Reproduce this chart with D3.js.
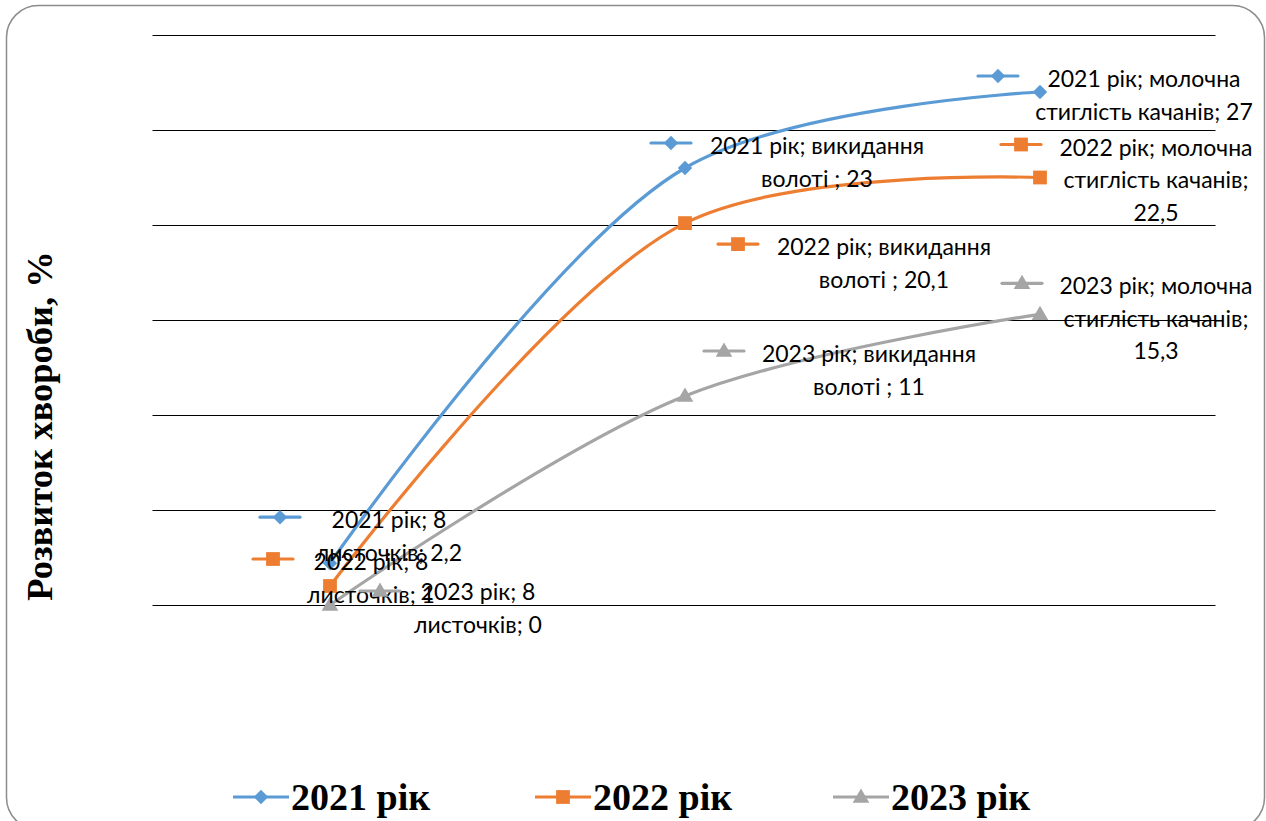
<!DOCTYPE html>
<html>
<head>
<meta charset="utf-8">
<script src="https://cdn.jsdelivr.net/npm/d3@7"></script>
<style>
  html, body { margin: 0; padding: 0; background: #fff; }
  svg { display: block; }
</style>
</head>
<body>
<svg id="chart" width="1266" height="821"></svg>
<script>
// ---- data ----
const categories = ["8 листочків", "викидання волоті ", "молочна стиглість качанів"];
const seriesNames = ["2021 рік", "2022 рік", "2023 рік"];
const values2021 = [2.2, 23, 27];
const values2022 = [1, 20.1, 22.5];
const values2023 = [0, 11, 15.3];
const yTicks = [0, 5, 10, 15, 20, 25, 30];
const yTitle = "Розвиток хвороби, %";

// ---- styles / layout ----
const colors = ["#5B9BD5", "#ED7D31", "#A5A5A5"];
// label offsets relative to the data point: text centre (tx, ty of first line), key centre (kx, ky)
const labelLayout = [
  [{tx: 59, ty: -44, kx: -50, ky: -46}, {tx: 132, ty: -23, kx: -14, ky: -25}, {tx: 104, ty: -14, kx: -42, ky: -16}],
  [{tx: 41, ty: -25, kx: -57, ky: -27}, {tx: 199, ty: 23, kx: 53, ky: 21}, {tx: 116, ty: -31, kx: -19, ky: -33}],
  [{tx: 148, ty: -14, kx: 50, ky: -14}, {tx: 184, ty: -43, kx: 39, ky: -45}, {tx: 116, ty: -29, kx: -18, ky: -31}]
];

const svg = d3.select("#chart");

// frame
svg.append("rect")
  .attr("x", 6.5).attr("y", 5.5).attr("width", 1258).attr("height", 824)
  .attr("rx", 32).attr("ry", 32)
  .attr("fill", "#fff").attr("stroke", "#8c8c8c").attr("stroke-width", 1.5);

const plot = {left: 152.5, right: 1217.5, top: 35, bottom: 605};

const x = d3.scaleBand().domain(categories).range([plot.left, plot.right]).padding(0);
const y = d3.scaleLinear().domain([0, 30]).range([plot.bottom, plot.top]);
const cx = c => x(c) + x.bandwidth() / 2;

// gridlines
const yAxis = d3.axisLeft(y).tickValues(yTicks).tickSize(-(plot.right - plot.left - 2)).tickFormat("");
const gAxis = svg.append("g").attr("transform", `translate(${plot.left},0)`).call(yAxis);
gAxis.select(".domain").remove();
gAxis.selectAll(".tick line").attr("stroke", "#000").attr("stroke-width", 1.2);

// y title
svg.append("text")
  .attr("transform", `translate(52, 426) rotate(-90)`)
  .attr("text-anchor", "middle")
  .attr("font-family", "'Liberation Serif', 'Times New Roman', serif")
  .attr("font-weight", "bold")
  .attr("font-size", 36.5)
  .text(yTitle);

const allSeries = [values2021, values2022, values2023];

const line = d3.line()
  .x((d, i) => cx(categories[i]))
  .y(d => y(d))
  .curve(d3.curveCatmullRom.alpha(0.5));

allSeries.forEach((vals, s) => {
  svg.append("path")
    .attr("d", line(vals))
    .attr("fill", "none")
    .attr("stroke", colors[s])
    .attr("stroke-width", 3.2)
    .attr("stroke-linecap", "round");
});

function drawMarker(g, s, px, py) {
  let p;
  if (s === 0) {
    p = g.append("path").attr("d", d3.symbol().type(d3.symbolSquare).size(104)())
      .attr("transform", `translate(${px},${py}) rotate(45)`);
  } else if (s === 1) {
    p = g.append("path").attr("d", d3.symbol().type(d3.symbolSquare).size(190)())
      .attr("transform", `translate(${px},${py})`);
  } else {
    p = g.append("path").attr("d", d3.symbol().type(d3.symbolTriangle).size(120)())
      .attr("transform", `translate(${px},${py + 1})`);
  }
  p.attr("fill", colors[s]);
}

allSeries.forEach((vals, s) => {
  vals.forEach((v, i) => drawMarker(svg, s, cx(categories[i]), y(v)));
});

// data labels
const labelFont = "Lato, 'Open Sans', sans-serif";
const labelSize = 23;
const lineH = 32.5;
const measurer = svg.append("text").attr("font-family", labelFont).attr("font-size", labelSize).attr("visibility", "hidden");
function measure(t) { measurer.text(t); return measurer.node().getComputedTextLength(); }
const maxW = 222;
function wrap(str) {
  const words = str.split(" ");
  const lines = [];
  let cur = "";
  words.forEach(w => {
    const trial = cur === "" ? w : cur + " " + w;
    if (cur !== "" && measure(trial) > maxW) { lines.push(cur); cur = w; }
    else cur = trial;
  });
  if (cur !== "") lines.push(cur);
  return lines;
}
function fmt(v) { return String(v).replace(".", ","); }

const labels = svg.append("g");
allSeries.forEach((vals, s) => {
  vals.forEach((v, i) => {
    const px = cx(categories[i]), py = y(v);
    const L = labelLayout[s][i];
    const str = `${seriesNames[s]}; ${categories[i]}; ${fmt(v)}`;
    const lines = wrap(str.replace(/\s+/g, " "));
    const kx = px + L.kx, ky = py + L.ky;
    labels.append("line")
      .attr("x1", kx - 20).attr("x2", kx + 20).attr("y1", ky).attr("y2", ky)
      .attr("stroke", colors[s]).attr("stroke-width", 3.2).attr("stroke-linecap", "round");
    drawMarker(labels, s, kx, ky);
    const t = labels.append("text")
      .attr("font-family", labelFont).attr("font-size", labelSize)
      .attr("text-anchor", "middle").attr("fill", "#000");
    lines.forEach((ln, k) => {
      t.append("tspan").attr("x", px + L.tx).attr("y", py + L.ty + k * lineH)
        .attr("dominant-baseline", "central").text(ln);
    });
  });
});
measurer.remove();

// legend
const legendX = [233, 535, 833];
const legendY = 797;
seriesNames.forEach((n, s) => {
  const g = svg.append("g");
  g.append("line").attr("x1", legendX[s]).attr("x2", legendX[s] + 56)
    .attr("y1", legendY).attr("y2", legendY)
    .attr("stroke", colors[s]).attr("stroke-width", 3.2);
  drawMarker(g, s, legendX[s] + 28, legendY);
  g.append("text").attr("x", legendX[s] + 58).attr("y", legendY)
    .attr("dominant-baseline", "central")
    .attr("font-family", "'Liberation Serif', 'Times New Roman', serif")
    .attr("font-weight", "bold").attr("font-size", 38)
    .text(n);
});
</script>
</body>
</html>
